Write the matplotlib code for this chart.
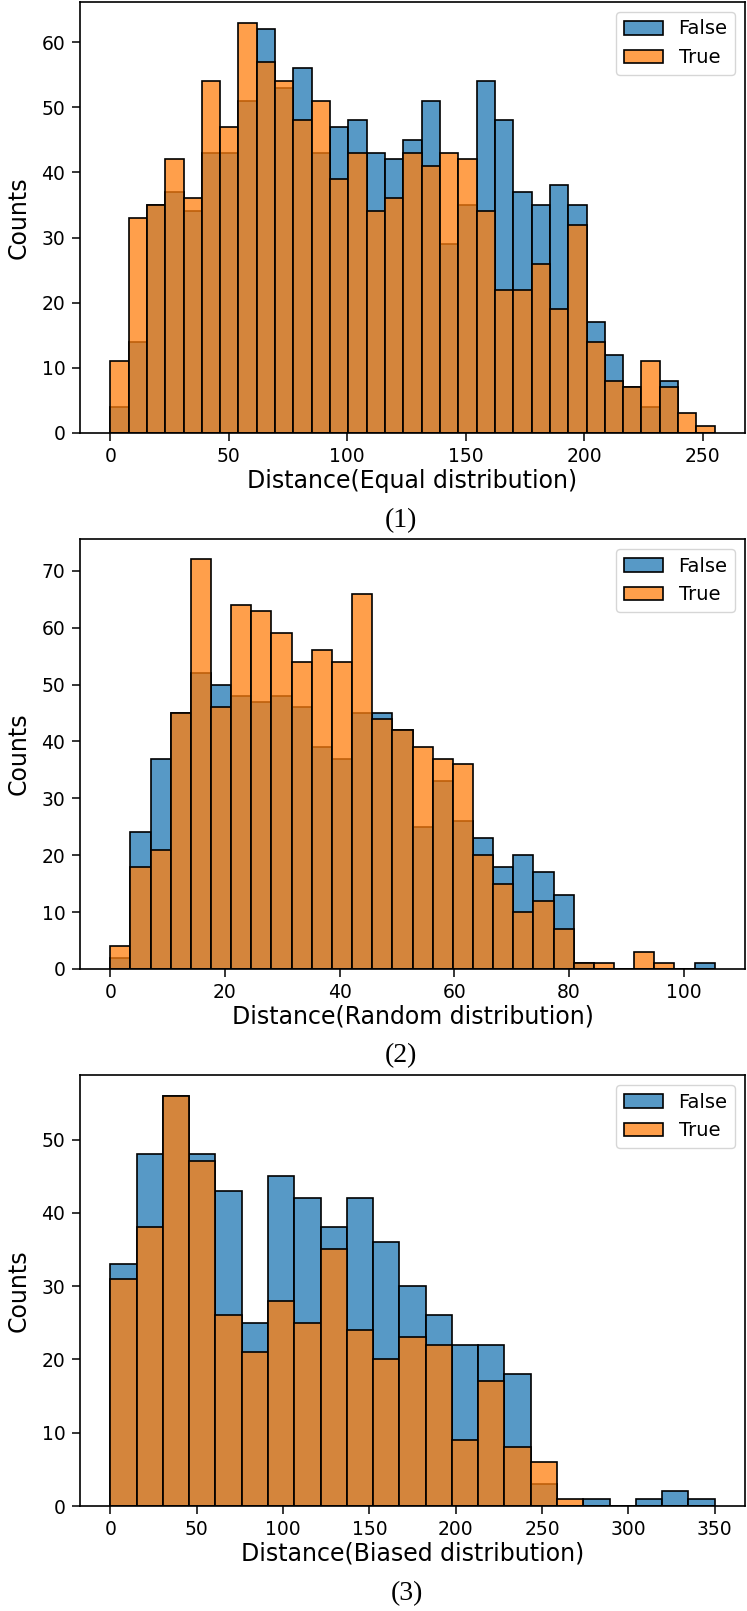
import numpy as np
import matplotlib.pyplot as plt
from matplotlib.colors import to_rgba

# histogram counts (False = blue, True = orange)
eq_range = (0, 255)
eq_false = [4, 14, 35, 37, 34, 43, 43, 51, 62, 53, 56, 43, 47, 48, 43,
            42, 45, 51, 29, 35, 54, 48, 37, 35, 38, 35, 17, 12, 7, 4, 8, 0, 0]
eq_true = [11, 33, 35, 42, 36, 54, 47, 63, 57, 54, 48, 51, 39, 43, 34,
           36, 43, 41, 43, 42, 34, 22, 22, 26, 19, 32, 14, 8, 7, 11, 7, 3, 1]

rand_range = (0, 105.4)
rand_false = [2, 24, 37, 45, 52, 50, 48, 47, 48, 46, 39, 37, 45, 45, 42,
              25, 33, 26, 23, 18, 20, 17, 13, 1, 0, 0, 0, 0, 0, 1]
rand_true = [4, 18, 21, 45, 72, 46, 64, 63, 59, 54, 56, 54, 66, 44, 42,
             39, 37, 36, 20, 15, 10, 12, 7, 1, 1, 0, 3, 1, 0, 0]

bias_range = (0, 350)
bias_false = [33, 48, 56, 48, 43, 25, 45, 42, 38, 42, 36, 30, 26, 22, 22,
              18, 3, 0, 1, 0, 1, 2, 1]
bias_true = [31, 38, 56, 47, 26, 21, 28, 25, 35, 24, 20, 23, 22, 9, 17,
             8, 6, 1, 0, 0, 0, 0, 0]

xlabels = ['Distance(Equal distribution)', 'Distance(Random distribution)',
           'Distance(Biased distribution)']
captions = ['(1)', '(2)', '(3)']
xticks = [np.arange(0, 251, 50), np.arange(0, 101, 20), np.arange(0, 351, 50)]

plt.rcParams['axes.linewidth'] = 1.2
plt.rcParams['xtick.major.size'] = 6
plt.rcParams['ytick.major.size'] = 6
plt.rcParams['xtick.major.width'] = 1.1
plt.rcParams['ytick.major.width'] = 1.1
plt.rcParams['xtick.major.pad'] = 4
plt.rcParams['ytick.major.pad'] = 4.5

W, H = 747, 1611
fig = plt.figure(figsize=(W / 100, H / 100), dpi=100)

# axes boxes in pixels: left, top, right, bottom
boxes = [(80, 2, 745, 433), (80, 539, 745, 969), (80, 1075, 745, 1506)]
cap_pos = [(401, 521), (401, 1056), (407, 1594)]


def hist_panel(ax, rng, f_counts, t_counts):
    n = len(f_counts)
    edges = np.linspace(rng[0], rng[1], n + 1)
    w = np.diff(edges)
    ax.bar(edges[:-1], f_counts, width=w, align='edge',
           color=to_rgba('#1f77b4', 0.75), edgecolor='black', linewidth=1.2, label='False')
    ax.bar(edges[:-1], t_counts, width=w, align='edge',
           color=to_rgba('#ff7f0e', 0.75), edgecolor='black', linewidth=1.2, label='True')


data = [(eq_range, eq_false, eq_true),
        (rand_range, rand_false, rand_true),
        (bias_range, bias_false, bias_true)]

for i, (rng, fc, tc) in enumerate(data):
    l, t, r, b = boxes[i]
    ax = fig.add_axes([l / W, 1 - b / H, (r - l) / W, (b - t) / H])
    hist_panel(ax, rng, fc, tc)
    ax.set_xticks(xticks[i])
    ax.tick_params(labelsize=13.5)
    ax.set_xlabel(xlabels[i], fontsize=17, labelpad=2)
    ax.set_ylabel('Counts', fontsize=17, labelpad=8)
    ax.legend(loc='upper right', fontsize=14)
    cx, cy = cap_pos[i]
    fig.text(cx / W, 1 - cy / H, captions[i], ha='center', va='center',
             family='Liberation Serif', fontsize=20)

fig.savefig('out.png', dpi=100, facecolor='white')
